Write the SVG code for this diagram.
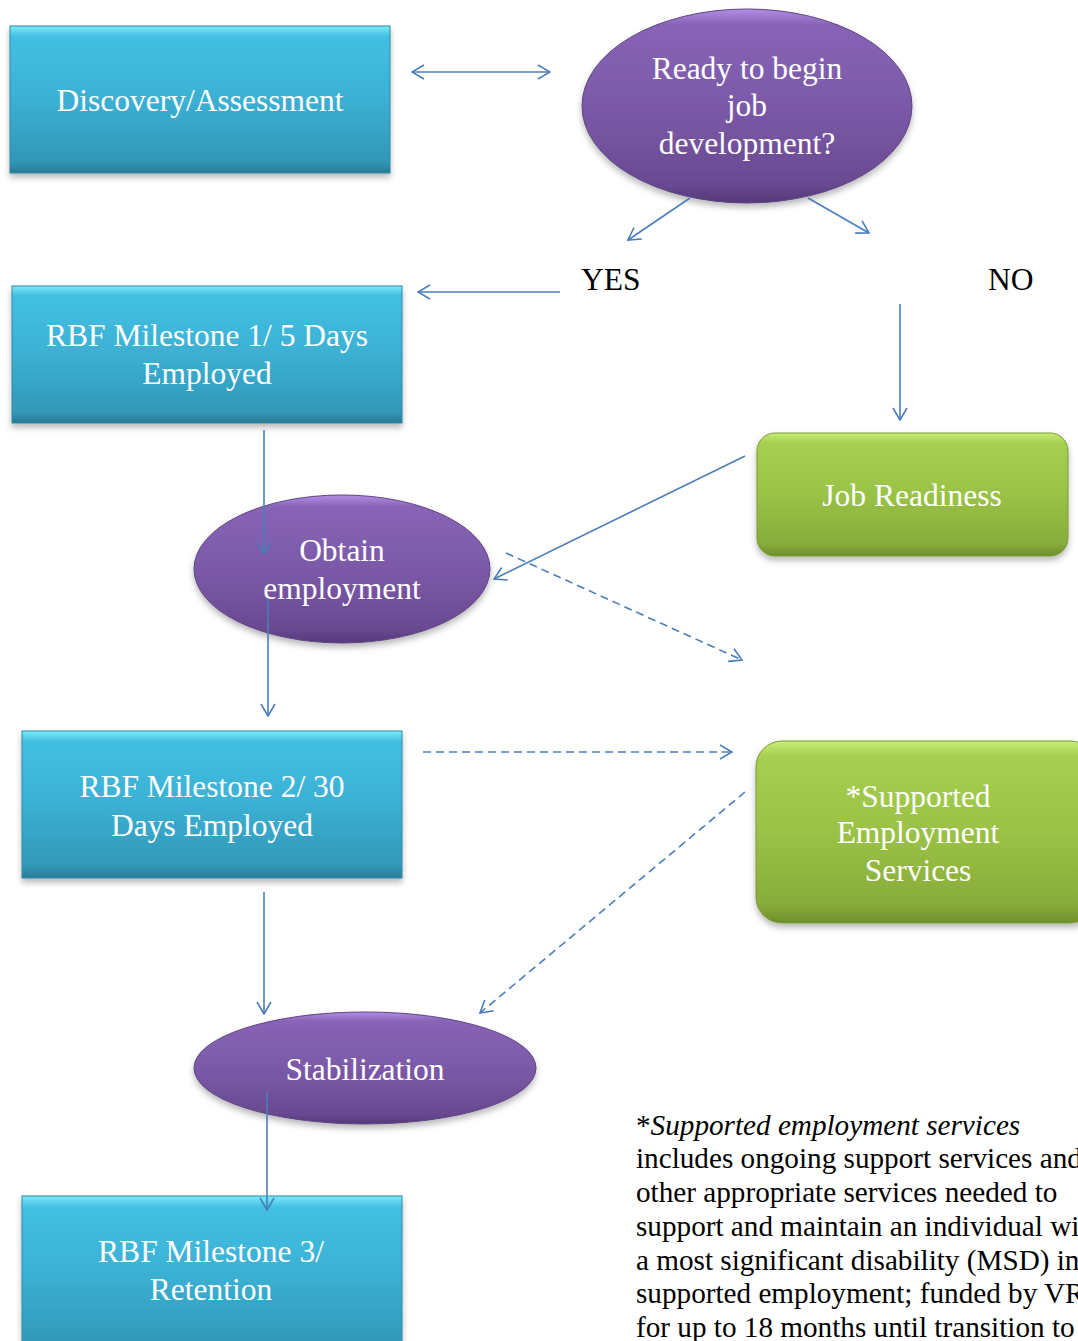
<svg xmlns="http://www.w3.org/2000/svg" width="1078" height="1341" viewBox="0 0 1078 1341">
<defs>
<style>
.nt{font-family:"Liberation Serif","Times New Roman",serif;font-size:31.5px;fill:#ffffff;text-anchor:middle}
.lbl{font-family:"Liberation Serif","Times New Roman",serif;font-size:31.5px;fill:#000000}
.note{font-family:"Liberation Serif","Times New Roman",serif;font-size:29.2px;fill:#000000}
.cn{fill:none;stroke:#4A7EBB;stroke-width:1.6}
.dash{stroke-dasharray:8 5}
.box{fill:url(#gBlue);stroke:#2B8AA8;stroke-width:1;filter:url(#sh)}
.ell{fill:url(#gPurp);stroke:#5E4480;stroke-width:1;filter:url(#sh)}
.grn{fill:url(#gGreen);stroke:#7A9A32;stroke-width:1;filter:url(#sh)}
</style>
<linearGradient id="gBlue" x1="0" y1="0" x2="0" y2="1">
<stop offset="0" stop-color="#7EEAFA"/>
<stop offset="0.07" stop-color="#42C0E3"/>
<stop offset="0.5" stop-color="#3BB0D3"/>
<stop offset="0.92" stop-color="#3298B8"/>
<stop offset="1" stop-color="#287A94"/>
</linearGradient>
<linearGradient id="gPurp" x1="0" y1="0" x2="0" y2="1">
<stop offset="0" stop-color="#B38EE6"/>
<stop offset="0.08" stop-color="#8863B6"/>
<stop offset="0.5" stop-color="#7B59A8"/>
<stop offset="0.9" stop-color="#6A4A92"/>
<stop offset="1" stop-color="#55397A"/>
</linearGradient>
<linearGradient id="gGreen" x1="0" y1="0" x2="0" y2="1">
<stop offset="0" stop-color="#C8EE78"/>
<stop offset="0.08" stop-color="#A6D050"/>
<stop offset="0.5" stop-color="#9AC246"/>
<stop offset="0.9" stop-color="#88AC3A"/>
<stop offset="1" stop-color="#6F8E2C"/>
</linearGradient>
<filter id="sh" x="-10%" y="-10%" width="120%" height="130%">
<feDropShadow dx="0" dy="4" stdDeviation="3" flood-color="#000" flood-opacity="0.28"/>
</filter>
<marker id="ah" viewBox="0 0 14 16" refX="13" refY="8" markerWidth="14" markerHeight="16" markerUnits="userSpaceOnUse" orient="auto-start-reverse">
<path d="M1,1 L13,8 L1,15" fill="none" stroke="#4A7EBB" stroke-width="1.6"/>
</marker>
</defs>
<rect width="1078" height="1341" fill="#ffffff"/>

<g id="node-discovery">
<rect class="box" x="10" y="26" width="380" height="147"/>
<text class="nt" x="200" y="111">Discovery/Assessment</text>
</g>

<g id="node-ready">
<ellipse class="ell" cx="747" cy="106" rx="165" ry="97"/>
<text class="nt" x="747" y="79">Ready to begin</text>
<text class="nt" x="747" y="116">job</text>
<text class="nt" x="747" y="154">development?</text>
</g>

<g id="label-yes"><text class="lbl" x="581" y="290">YES</text></g>
<g id="label-no"><text class="lbl" x="988" y="290">NO</text></g>

<g id="node-milestone1">
<rect class="box" x="12" y="286" width="390" height="137"/>
<text class="nt" x="207" y="346">RBF Milestone 1/ 5 Days</text>
<text class="nt" x="207" y="384">Employed</text>
</g>

<g id="node-jobreadiness">
<rect class="grn" x="757" y="433" width="311" height="123" rx="18"/>
<text class="nt" x="912" y="506">Job Readiness</text>
</g>

<g id="node-obtain">
<ellipse class="ell" cx="342" cy="569" rx="148" ry="74"/>
<text class="nt" x="342" y="561">Obtain</text>
<text class="nt" x="342" y="599">employment</text>
</g>

<g id="node-milestone2">
<rect class="box" x="22" y="731" width="380" height="147"/>
<text class="nt" x="212" y="797">RBF Milestone 2/ 30</text>
<text class="nt" x="212" y="836">Days Employed</text>
</g>

<g id="node-supported">
<rect class="grn" x="756" y="741" width="340" height="182" rx="26"/>
<text class="nt" x="918" y="807">*Supported</text>
<text class="nt" x="918" y="843">Employment</text>
<text class="nt" x="918" y="881">Services</text>
</g>

<g id="node-stabilization">
<ellipse class="ell" cx="365" cy="1068" rx="171" ry="56"/>
<text class="nt" x="365" y="1080">Stabilization</text>
</g>

<g id="node-milestone3">
<rect class="box" x="22" y="1196" width="380" height="160"/>
<text class="nt" x="211" y="1262">RBF Milestone 3/</text>
<text class="nt" x="211" y="1300">Retention</text>
</g>

<g id="connectors">
<line class="cn" x1="412" y1="72" x2="550" y2="72" marker-start="url(#ah)" marker-end="url(#ah)"/>
<line class="cn" x1="690" y1="198" x2="628" y2="240" marker-end="url(#ah)"/>
<line class="cn" x1="808" y1="198" x2="869" y2="233" marker-end="url(#ah)"/>
<line class="cn" x1="560" y1="292" x2="418" y2="292" marker-end="url(#ah)"/>
<line class="cn" x1="900" y1="304" x2="900" y2="420" marker-end="url(#ah)"/>
<line class="cn" x1="264" y1="430" x2="264" y2="554" marker-end="url(#ah)"/>
<line class="cn" x1="745" y1="456" x2="494" y2="579" marker-end="url(#ah)"/>
<line class="cn dash" x1="506" y1="553" x2="742" y2="660" marker-end="url(#ah)"/>
<line class="cn" x1="268" y1="598" x2="268" y2="716" marker-end="url(#ah)"/>
<line class="cn dash" x1="423" y1="752" x2="732" y2="752" marker-end="url(#ah)"/>
<line class="cn dash" x1="745" y1="792" x2="480" y2="1013" marker-end="url(#ah)"/>
<line class="cn" x1="264" y1="892" x2="264" y2="1014" marker-end="url(#ah)"/>
<line class="cn" x1="267" y1="1092" x2="267" y2="1210" marker-end="url(#ah)"/>
</g>

<g id="footnote">
<text class="note" x="636" y="1135"><tspan>*</tspan><tspan font-style="italic">Supported employment services</tspan></text>
<text class="note" x="636" y="1168">includes ongoing support services and</text>
<text class="note" x="636" y="1202">other appropriate services needed to</text>
<text class="note" x="636" y="1236">support and maintain an individual with</text>
<text class="note" x="636" y="1270">a most significant disability (MSD) in</text>
<text class="note" x="636" y="1303">supported employment; funded by VR</text>
<text class="note" x="636" y="1337">for up to 18 months until transition to</text>
</g>
</svg>
